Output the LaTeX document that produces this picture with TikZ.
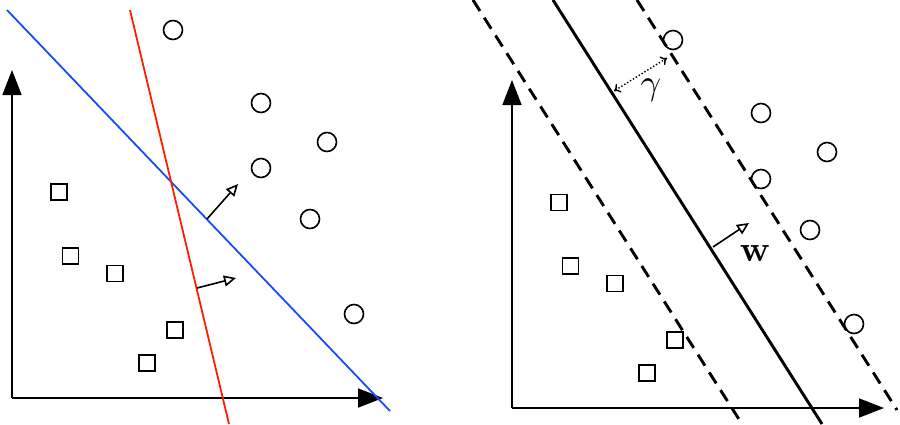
\documentclass[tikz,border=0pt]{standalone}
\usetikzlibrary{arrows.meta}
\definecolor{lblue}{RGB}{25,75,255}
\definecolor{lred}{RGB}{255,30,0}
\begin{document}
\begin{tikzpicture}[x=1pt,y=-1pt,
  circ/.style={draw,circle,minimum size=19pt,inner sep=0pt,line width=1.6pt},
  sq/.style={draw,rectangle,minimum size=16pt,inner sep=0pt,line width=1.6pt},
  axis/.style={line width=1.7pt,-{Triangle[length=25pt,width=19pt]}},
  normarrow/.style={line width=1.6pt,-{Triangle[open,length=12pt,width=11pt,line width=1.6pt]}},
  sepline/.style={line width=1.8pt},
  svmline/.style={line width=2.9pt},
  svmdash/.style={line width=2.9pt,dash pattern=on 13pt off 8pt},
  biglabel/.style={inner sep=0pt,scale=3.6}]
\useasboundingbox (0,0) rectangle (900,424);
% ---------- left panel ----------
\coordinate (lo) at (12,398);
\coordinate (ly) at (12,70);
\coordinate (lx) at (383,398);
\draw[axis] (lo) -- (ly);
\draw[axis] (lo) -- (lx);
\coordinate (b1) at (7,10);
\coordinate (b2) at (390,411);
\coordinate (r1) at (130,10);
\coordinate (r2) at (229,424);
\draw[sepline,lblue] (b1) -- (b2);
\draw[sepline,lred] (r1) -- (r2);
\coordinate (ba) at (207,219);
\coordinate (bb) at (238,184);
\coordinate (ra) at (197,288);
\coordinate (rb) at (236,278);
\draw[normarrow] (ba) -- (bb);
\draw[normarrow] (ra) -- (rb);
\node[circ] (lc1) at (173,30) {};
\node[circ] (lc2) at (261,103) {};
\node[circ] (lc3) at (327,142) {};
\node[circ] (lc4) at (261,168) {};
\node[circ] (lc5) at (310,219) {};
\node[circ] (lc6) at (354,314) {};
\node[sq] (ls1) at (59,192) {};
\node[sq] (ls2) at (70.5,256) {};
\node[sq] (ls3) at (115,273.5) {};
\node[sq] (ls4) at (175,330) {};
\node[sq] (ls5) at (147,363) {};
% ---------- right panel ----------
\coordinate (ro) at (512,408);
\coordinate (ry) at (512,80);
\coordinate (rx) at (884,408);
\draw[axis] (ro) -- (ry);
\draw[axis] (ro) -- (rx);
\coordinate (d1a) at (473,0);
\coordinate (d1b) at (742,424);
\coordinate (s1a) at (553,0);
\coordinate (s1b) at (822,424);
\coordinate (d2a) at (637,0);
\coordinate (d2b) at (897,410);
\draw[svmdash] (d1a) -- (d1b);
\draw[svmline] (s1a) -- (s1b);
\draw[svmdash] (d2a) -- (d2b);
\node[circ] (rc1) at (673,40) {};
\node[circ] (rc2) at (761,113) {};
\node[circ] (rc3) at (827,152) {};
\node[circ] (rc4) at (761,179) {};
\node[circ] (rc5) at (810,230) {};
\node[circ] (rc6) at (854,324) {};
\node[sq] (rs1) at (559,202.5) {};
\node[sq] (rs2) at (570.5,266) {};
\node[sq] (rs3) at (615,283.5) {};
\node[sq] (rs4) at (675,340) {};
\node[sq] (rs5) at (647,373) {};
\coordinate (wa) at (713,247);
\coordinate (wb) at (749,223);
\draw[normarrow] (wa) -- (wb);
\node[biglabel] (wlab) at (755,253) {$\mathbf{w}$};
\coordinate (ga) at (667,58);
\coordinate (gb) at (614,91);
\draw[line width=1.4pt,dotted,{To[length=6pt,width=10pt]}-{To[length=6pt,width=10pt]}] (ga) -- (gb);
\node[biglabel] (glab) at (651,90) {$\gamma$};
\end{tikzpicture}
\end{document}
